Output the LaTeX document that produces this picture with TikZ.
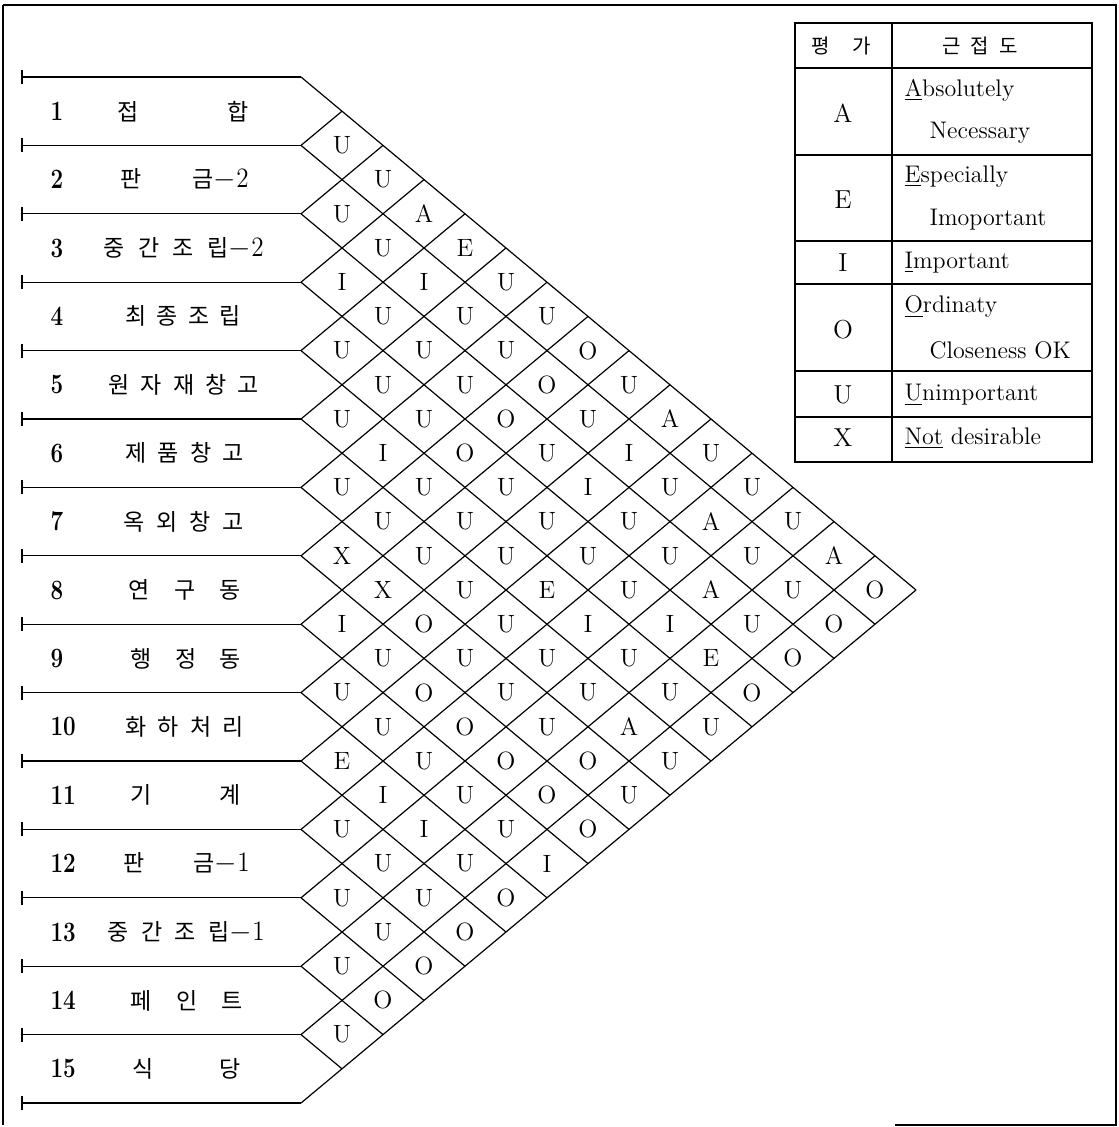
\documentclass[tikz,border=0pt]{standalone}
\usepackage{fontspec}
\usepackage{graphicx}
\newfontfamily\kr{Noto Sans CJK KR}
\newcommand{\dg}[1]{{\normalfont\fontsize{14}{16}\selectfont$-$\scalebox{0.9}[1]{#1}}}
\begin{document}
\begin{tikzpicture}[x=0.5pt,y=-0.5pt,line width=0.6pt,
  cell/.style={inner sep=0pt,font=\fontsize{12.5}{14}\selectfont},
  num/.style={anchor=west,inner sep=0pt,font=\fontsize{14}{16}\selectfont\bfseries},
  lab/.style={anchor=west,inner sep=0pt,font=\kr\fontsize{11.5}{13}\selectfont},
  legl/.style={inner sep=0pt,font=\fontsize{13}{15}\selectfont},
  legt/.style={anchor=west,inner sep=0pt,font=\fontsize{12}{14}\selectfont},
  legh/.style={inner sep=0pt,font=\kr\fontsize{10}{12}\selectfont}]
\useasboundingbox (0,0) rectangle (1118,1127);
% frame
\draw (895,1125) -- (1116,1125) -- (1116,5) -- (3,5);
\draw[line width=1.1pt] (3,5) -- (3,1125);
% row lines and diagonals
\foreach \k in {0,...,15}{
  \pgfmathsetmacro\yk{77+\k*68.4}
  \coordinate (L\k) at (301,\yk);
  \coordinate (T\k) at (22,\yk);
  \draw (T\k) -- (L\k);
  \draw (22,\yk-7) -- (22,\yk+7);
  \draw (L\k) -- ++({(15-\k)*41},{(15-\k)*34.2});
  \draw (L\k) -- ++({\k*41},{-\k*34.2});
}
% relationship letters
\foreach \i/\j/\L in {1/2/U,1/3/U,2/3/U,1/4/A,2/4/U,1/5/E,3/4/I,2/5/I,1/6/U,3/5/U,2/6/U,1/7/U,
  4/5/U,3/6/U,2/7/U,1/8/O,4/6/U,3/7/U,2/8/O,1/9/U,5/6/U,4/7/U,3/8/O,2/9/U,1/10/A,
  5/7/I,4/8/O,3/9/U,2/10/I,1/11/U,6/7/U,5/8/U,4/9/U,3/10/I,2/11/U,1/12/U,
  6/8/U,5/9/U,4/10/U,3/11/U,2/12/A,1/13/U,7/8/X,6/9/U,5/10/U,4/11/U,3/12/U,2/13/U,1/14/A,
  7/9/X,6/10/U,5/11/E,4/12/U,3/13/A,2/14/U,1/15/O,8/9/I,7/10/O,6/11/U,5/12/I,4/13/I,3/14/U,2/15/O,
  8/10/U,7/11/U,6/12/U,5/13/U,4/14/E,3/15/O,9/10/U,8/11/O,7/12/U,6/13/U,5/14/U,4/15/O,
  9/11/U,8/12/O,7/13/U,6/14/A,5/15/U,10/11/E,9/12/U,8/13/O,7/14/O,6/15/U,
  10/12/I,9/13/U,8/14/O,7/15/U,11/12/U,10/13/I,9/14/U,8/15/O,11/13/U,10/14/U,9/15/I,
  12/13/U,11/14/U,10/15/O,12/14/U,11/15/O,13/14/U,12/15/O,13/15/O,14/15/U}{
  \node[cell] (c\i-\j) at ({301+41*(\j-\i)},{77+(\i+\j-1)*34.2}) {\L};
}
% row labels
\foreach \n/\l/\r/\t in {
  1/117/248/{접\hfill 합},
  2/120/248/{판\hfill 금\dg{2}},
  3/103/263/{중\hfill 간\hfill 조\hfill 립\dg{2}},
  4/125/240/{최\hfill 종\hfill 조\hfill 립},
  5/108/258/{원\hfill 자\hfill 재\hfill 창\hfill 고},
  6/125/243/{제\hfill 품\hfill 창\hfill 고},
  7/123/243/{옥\hfill 외\hfill 창\hfill 고},
  8/128/240/{연\hfill 구\hfill 동},
  9/130/240/{행\hfill 정\hfill 동},
  10/125/243/{화\hfill 하\hfill 처\hfill 리},
  11/130/240/{기\hfill 계},
  12/123/249/{판\hfill 금\dg{1}},
  13/107/264/{중\hfill 간\hfill 조\hfill 립\dg{1}},
  14/130/242/{페\hfill 인\hfill 트},
  15/132/240/{식\hfill 당}}{
  \pgfmathsetmacro\yc{77+(\n-0.5)*68.4}
  \pgfmathsetmacro\labw{(\r-\l)*0.5}
  \node[num] (n\n) at (50,\yc) {\scalebox{0.8}[1]{\n}};
  \node[lab] (t\n) at (\l,\yc) {\makebox[\labw pt]{\t}};
}
% legend table
\draw (795,23) rectangle (1092,462);
\draw (892,23) -- (892,462);
\foreach \y in {68,155,241,284,371,417} \draw (795,\y) -- (1092,\y);
\node[legh] (h1) at (841,46) {평\hspace{1.1em}가};
\node[legh] (h2) at (980,46) {근\hspace{0.5em}접\hspace{0.5em}도};
\node[legl] (gA) at (843,113) {A};
\node[legl] (gE) at (843,200) {E};
\node[legl] (gI) at (843,263) {I};
\node[legl] (gO) at (843,330) {O};
\node[legl] (gU) at (843,395) {U};
\node[legl] (gX) at (843,438) {X};
\node[legt] (dA1) at (904,90) {\underline{A}bsolutely};
\node[legt] (dA2) at (929,133) {Necessary};
\node[legt] (dE1) at (904,177) {\underline{E}specially};
\node[legt] (dE2) at (929,220) {Imoportant};
\node[legt] (dI) at (904,263) {\underline{I}mportant};
\node[legt] (dO1) at (904,307) {\underline{O}rdinaty};
\node[legt] (dO2) at (929,350) {Closeness OK};
\node[legt] (dU) at (904,395) {\underline{U}nimportant};
\node[legt] (dX) at (904,438) {\underline{Not} desirable};
\end{tikzpicture}
\end{document}
